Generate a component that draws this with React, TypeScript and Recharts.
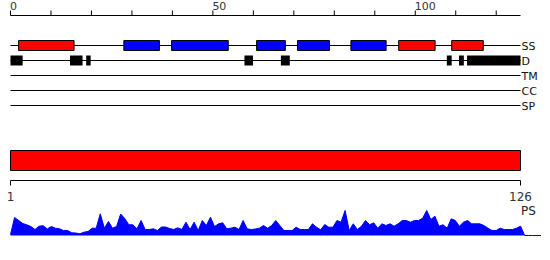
import React from 'react'
import { ComposedChart, AreaChart, BarChart, Area, Bar, Line, XAxis, YAxis, ReferenceArea } from 'recharts'

// feature tracks, top to bottom
const tracks = ['SS', 'D', 'TM', 'CC', 'SP']
const trackSpan = [0, 126]
const topTicks = [0, 10, 20, 30, 40, 50, 60, 70, 80, 90, 100, 110, 120]
const topLabels = [0, 50, 100]
const seqTicks = [1, 126]

// secondary structure
const helices: [number, number][] = [[2, 15.7], [95.9, 104.9], [109, 116.8]]
const strands: [number, number][] = [[28, 36.8], [39.8, 53.8], [60.8, 67.9], [70.9, 78.8], [84.1, 92.8]]
// disorder
const disorder: [number, number][] = [
  [0, 3], [14.7, 17.8], [18.7, 19.8], [57.8, 59.9], [66.8, 69],
  [107.8, 109], [110.8, 112], [112.8, 126],
]
// domain bar
const domains = [{ name: 'domain', range: [1, 126] }]

// PS profile, positions 1..131 (flat after the sequence end)
const psScores = [
  1, 18, 15, 12, 10.7, 9, 6, 9.3, 9.8, 6.5,
  9, 7.3, 6.7, 5, 5, 2.7, 2.5, 1.7, 3.3, 4,
  7.3, 7.3, 21.7, 7.3, 14, 7.3, 9, 21.5, 17, 10.7,
  10.7, 6.7, 15, 6, 6, 6.7, 5, 8.5, 8.5, 7,
  6, 7.7, 6, 13.3, 6, 13.3, 5, 15, 10, 18.3,
  9, 11.7, 12.7, 6.7, 7.3, 8.3, 6, 15, 6.7, 6,
  6.5, 7.3, 10, 7.3, 10, 15, 10, 5, 5, 5,
  8.3, 6, 6, 6, 11.7, 8.3, 5.7, 11, 8.3, 8.3,
  15, 13.3, 25, 5, 11.7, 6, 9.3, 15, 10.7, 12.7,
  7.3, 11.7, 10, 11.7, 9.3, 11.7, 15, 15, 13.3, 15,
  15, 17.3, 25, 16, 19.3, 9.3, 10.7, 7.3, 16.7, 15,
  9.3, 13.3, 15, 11.7, 11.7, 11.7, 10, 7.3, 5, 5,
  7.3, 6, 6, 6, 7.3, 9.3,
  0, 0, 0, 0, 0,
]

const FONT = '"DejaVu Sans", sans-serif'

const row = (name: string) => tracks.indexOf(name) + 1
const trackData = trackSpan.map(pos => {
  const d: Record<string, number> = { pos }
  tracks.forEach(t => { d[t] = row(t) })
  return d
})
const psData = psScores.map((ps, i) => ({ pos: i + 1, ps }))

function TopTick({ x, y, payload }: any) {
  if (!topLabels.includes(payload.value)) return <g />
  return (
    <text x={x - 0.5} y={y + 1} fontSize={11} fill="#333" textAnchor="start">
      {payload.value}
    </text>
  )
}

function TrackTick({ x, y, payload }: any) {
  return (
    <text x={x} y={y + 4} fontSize={11} fill="#111">
      {tracks[payload.value - 1]}
    </text>
  )
}

function SeqTick({ x, y, payload }: any) {
  return (
    <text x={x} y={y + 13.5} fontSize={12} fill="#333" textAnchor="middle">
      {payload.value}
    </text>
  )
}

export default function App() {
  return (
    <div style={{ position: 'absolute', left: 0, top: 0, width: 550, height: 260, fontFamily: FONT }}>
      <div style={{ position: 'absolute', left: 0, top: 0 }}>
        <ComposedChart width={550} height={121} data={trackData} margin={{ top: 0, right: 0, bottom: 0.5, left: 10.5 }}>
          <XAxis dataKey="pos" type="number" orientation="top" domain={[0, 126]} ticks={topTicks} interval={0}
            height={15.5} tickSize={5} tickMargin={2} stroke="#000" tick={<TopTick />} />
          <YAxis type="number" orientation="right" domain={[-1, 6]} reversed ticks={[1, 2, 3, 4, 5]}
            interval={0} width={29.5} tickSize={0} tickMargin={1} axisLine={false} tickLine={false}
            tick={<TrackTick />} />
          {tracks.map(t => (
            <Line key={t} dataKey={t} stroke="#000" strokeWidth={1} dot={false} activeDot={false}
              isAnimationActive={false} />
          ))}
          {helices.map(([s, e], i) => (
            <ReferenceArea key={'h' + i} x1={s} x2={e} y1={row('SS') - 1 / 3} y2={row('SS') + 1 / 3}
              fill="#ff0000" fillOpacity={1} stroke="#000" strokeWidth={1} zIndex={450} />
          ))}
          {strands.map(([s, e], i) => (
            <ReferenceArea key={'s' + i} x1={s} x2={e} y1={row('SS') - 1 / 3} y2={row('SS') + 1 / 3}
              fill="#0000ff" fillOpacity={1} stroke="#000" strokeWidth={1} zIndex={450} />
          ))}
          {disorder.map(([s, e], i) => (
            <ReferenceArea key={'d' + i} x1={s} x2={e} y1={row('D') - 1 / 3} y2={row('D') + 1 / 3}
              fill="#000" fillOpacity={1} stroke="none" zIndex={450} />
          ))}
        </ComposedChart>
      </div>

      <div style={{ position: 'absolute', left: 0, top: 140 }}>
        <BarChart width={550} height={70} data={domains} layout="vertical"
          margin={{ top: 0.5, right: 29.5, bottom: 0, left: 10.5 }}>
          <XAxis type="number" domain={[1, 126]} ticks={seqTicks} interval={0} height={29.5}
            tickSize={5} tickMargin={2} stroke="#000" tick={<SeqTick />} />
          <YAxis type="category" dataKey="name" hide />
          <Bar dataKey="range" barSize={20} fill="#ff0000" stroke="#000" strokeWidth={1}
            isAnimationActive={false} />
        </BarChart>
      </div>

      <div style={{ position: 'absolute', left: 0, top: 200 }}>
        <AreaChart width={550} height={40} data={psData} margin={{ top: 10.5, right: 9, bottom: 4.5, left: 10.5 }}>
          <XAxis dataKey="pos" type="number" domain={[1, 131]} hide />
          <YAxis type="number" domain={[0, 25]} hide />
          <Area type="linear" dataKey="ps" stroke="#0000ff" strokeWidth={1} fill="#0000ff" fillOpacity={1}
            dot={false} activeDot={false} isAnimationActive={false} />
        </AreaChart>
      </div>

      <svg width={550} height={260} style={{ position: 'absolute', left: 0, top: 0, pointerEvents: 'none' }}>
        <text x={521} y={214.5} fontSize={12} fill="#222" fontFamily={FONT}>PS</text>
      </svg>
    </div>
  )
}
